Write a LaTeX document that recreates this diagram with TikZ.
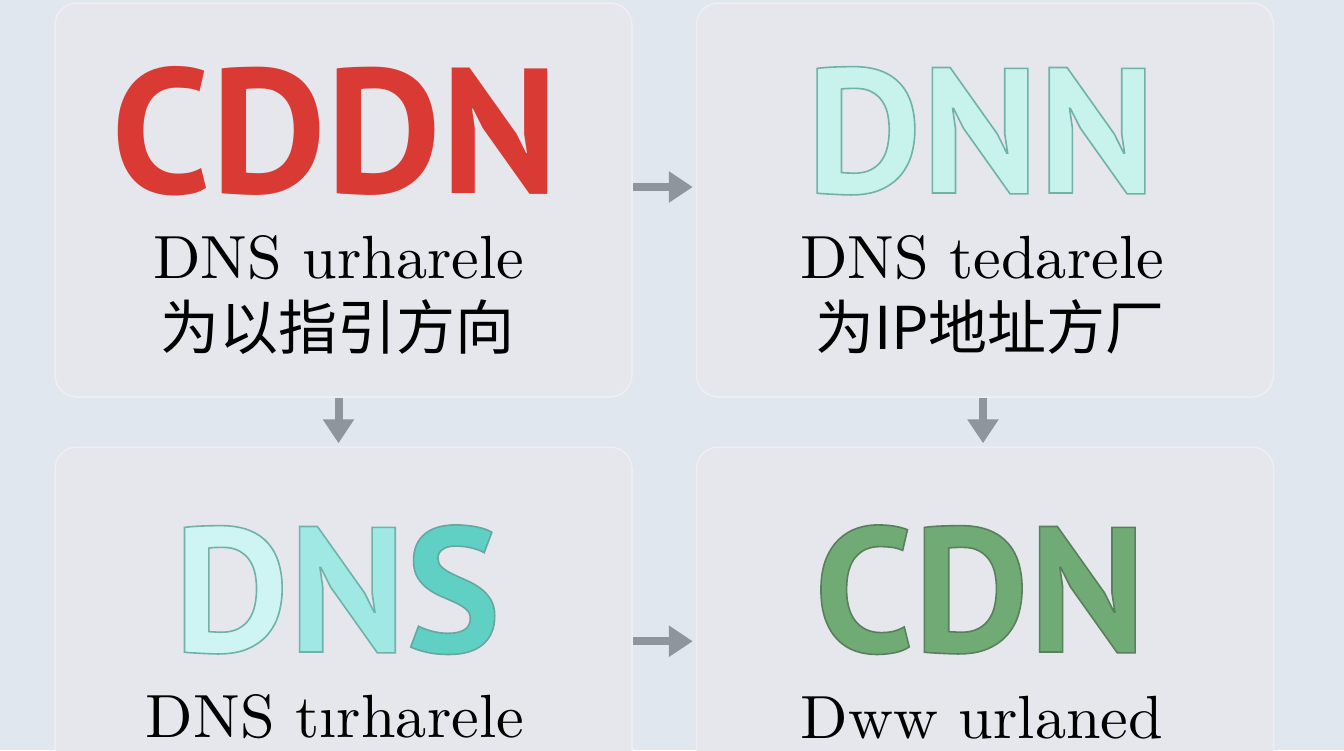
\documentclass[tikz,border=0pt]{standalone}
\usepackage{fontspec}
\usepackage{tikz}
\usetikzlibrary{arrows.meta}
\newfontfamily\cjk{Noto Sans CJK SC}
\newfontfamily\bigsans{PT Sans}
\newfontfamily\serifx[FakeStretch=1.02]{lmroman10-regular.otf}
% glyphs filled and stroked: stroke colour given as r g b
\newcommand\outl[2]{\special{pdf:literal direct 2 Tr 1.6 w #1 RG}#2\special{pdf:literal direct 0 Tr}}

\definecolor{bgcol}{RGB}{224,231,239}
\definecolor{boxfill}{RGB}{229,231,237}
\definecolor{boxline}{RGB}{237,239,243}
\definecolor{flowgray}{RGB}{143,149,157}
\definecolor{cddnred}{RGB}{217,58,52}
\definecolor{dnnfill}{RGB}{200,242,236}
\definecolor{dnsa}{RGB}{206,244,243}
\definecolor{dnsb}{RGB}{160,232,228}
\definecolor{dnsc}{RGB}{96,208,197}
\definecolor{cdngreen}{RGB}{112,170,116}

\begin{document}
\begin{tikzpicture}[x=1pt, y=-1pt,
    main/.style = {draw=boxline, line width=1.5pt, fill=boxfill, rounded corners=22pt,
                   minimum width=577pt, minimum height=394pt, inner sep=0pt},
    word/.style = {anchor=base, inner sep=0pt, text depth=0pt, font=\bigsans\bfseries\fontsize{178}{178}\selectfont},
    label/.style = {anchor=base, inner sep=0pt, font=\serifx\fontsize{61}{68}\selectfont},
    zh/.style = {inner sep=0pt, font=\cjk\fontsize{59}{64}\selectfont},
    flow/.style = {draw=flowgray, line width=8pt, -{Triangle[width=30pt, length=24pt]}, shorten >=3pt}]
    \clip (0,0) rectangle (1344,750);
    \fill[bgcol] (0,0) rectangle (1344,750);

    \node[main] (box1) at (343.5,200) {};
    \node[main] (box2) at (985,200) {};
    \node[main] (box3) at (343.5,644) {};
    \node[main] (box4) at (985,644) {};

    \node[word, text=cddnred] (cddn) at (335,193) {CDDN};
    \node[label] (l1) at (339,278) {DNS urharele};
    \node[zh] (z1) at (337,327) {为以指引方向};

    \node[word, text=dnnfill] (dnn) at (981,193) {\outl{0.44 0.70 0.66}{DNN}};
    \node[label] (l2) at (982,278) {DNS tedarele};
    \node[zh] (z2) at (990,327) {为IP地址方厂};

    \node[word] (dns) at (337,652) {\color{dnsa}\outl{0.44 0.70 0.66}{D}\color{dnsb}\outl{0.44 0.70 0.66}{N}\color{dnsc}\outl{0.40 0.66 0.62}{S}};
    \node[label] (l3) at (335,737) {DNS tırharele};

    \node[word, text=cdngreen] (cdn) at (980,652) {\outl{0.35 0.50 0.36}{CDN}};
    \node[label] (l4) at (982,738) {Dww urlaned};

    \draw[flow] ([yshift=13pt]box1.east) -- ([yshift=13pt]box2.west);
    \draw[flow] ([xshift=-5pt]box1.south) -- ([xshift=-5pt]box3.north);
    \draw[flow] ([xshift=-2pt]box2.south) -- ([xshift=-2pt]box4.north);
    \draw[flow] ([yshift=-195pt]box3.north east) -- ([yshift=-195pt]box4.north west);
\end{tikzpicture}
\end{document}
